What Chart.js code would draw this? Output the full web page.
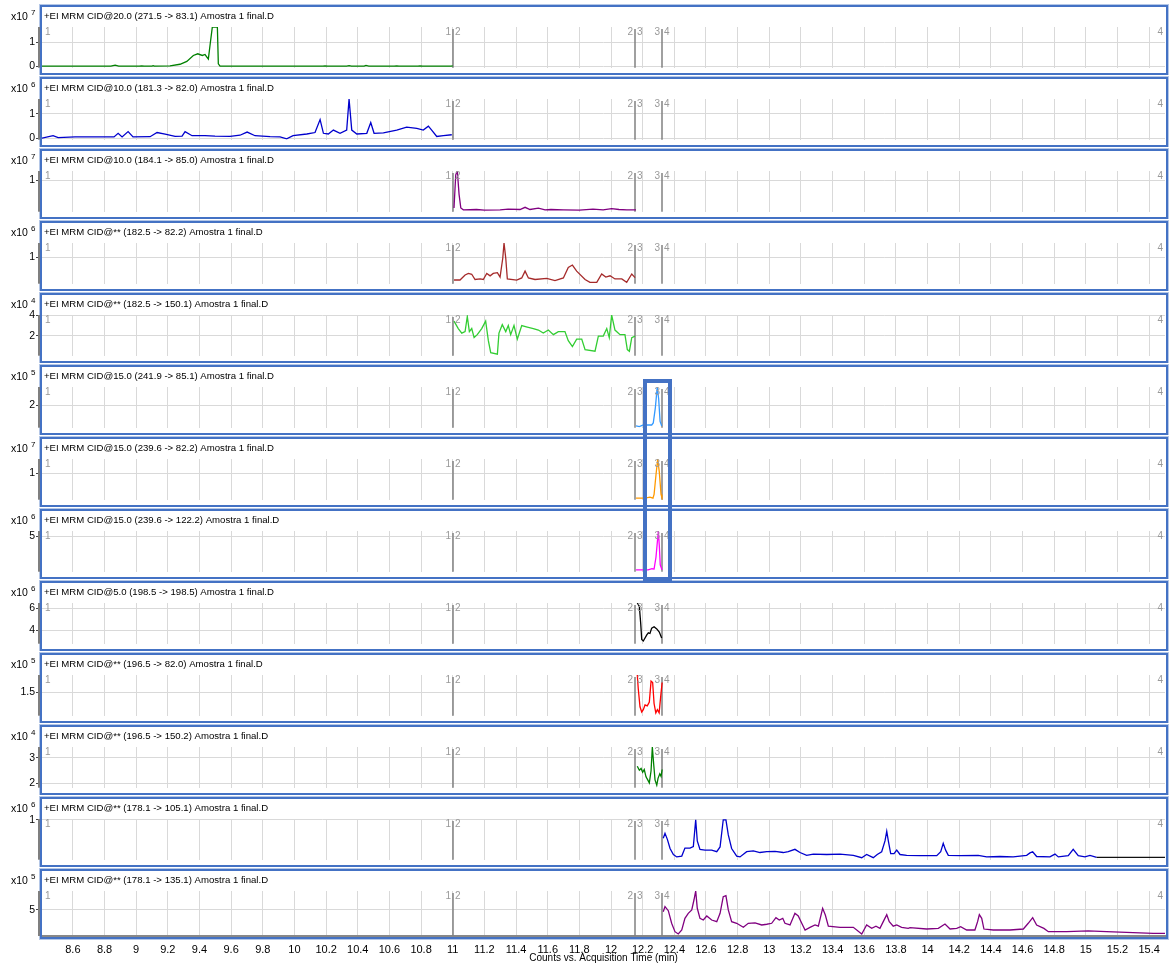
<!DOCTYPE html>
<html>
<head>
<meta charset="utf-8">
<script src="https://cdn.jsdelivr.net/npm/chart.js@4.4.1/dist/chart.umd.min.js"></script>
<style>
  body { margin: 0; background: #fff; }
  #wrap { position: relative; width: 1173px; height: 970px; overflow: hidden; }
  #wrap canvas { position: absolute; left: 0; }
  #focus { position: absolute; border: 4px solid #4472c4; box-sizing: border-box; }
</style>
</head>
<body>
<div id="wrap"><div id="focus"></div></div>
<script>
const panelTitles = [
  '+EI MRM CID@20.0 (271.5 -> 83.1) Amostra 1 final.D',
  '+EI MRM CID@10.0 (181.3 -> 82.0) Amostra 1 final.D',
  '+EI MRM CID@10.0 (184.1 -> 85.0) Amostra 1 final.D',
  '+EI MRM CID@** (182.5 -> 82.2) Amostra 1 final.D',
  '+EI MRM CID@** (182.5 -> 150.1) Amostra 1 final.D',
  '+EI MRM CID@15.0 (241.9 -> 85.1) Amostra 1 final.D',
  '+EI MRM CID@15.0 (239.6 -> 82.2) Amostra 1 final.D',
  '+EI MRM CID@15.0 (239.6 -> 122.2) Amostra 1 final.D',
  '+EI MRM CID@5.0 (198.5 -> 198.5) Amostra 1 final.D',
  '+EI MRM CID@** (196.5 -> 82.0) Amostra 1 final.D',
  '+EI MRM CID@** (196.5 -> 150.2) Amostra 1 final.D',
  '+EI MRM CID@** (178.1 -> 105.1) Amostra 1 final.D',
  '+EI MRM CID@** (178.1 -> 135.1) Amostra 1 final.D'
];
const exponents = [7, 6, 7, 6, 4, 5, 7, 6, 6, 5, 4, 6, 5];
const yRanges = [
  [-0.065, 1.646], [-0.063, 1.604], [0, 1.29], [0, 1.55], [0.04, 4.04], [1.0, 2.8], [0, 1.55],
  [0, 5.77], [2.75, 6.5], [1.0, 1.87], [1.82, 3.43], [0, 1.02], [1, 7.9]
];
const yTicks = [[0, 1], [0, 1], [1], [1], [2, 4], [2], [1], [5], [4, 6], [1.5], [2, 3], [1], [5]];
const lineColors = ['#008000', '#0000cd', '#800080', '#a52a2a', '#32cd32', '#3399ff', '#ff9900',
  '#ff00ff', '#000000', '#ff0000', '#008000', '#0000cd', '#800080'];

const timeRange = [8.405, 15.5];
const timeTicks = [8.6, 8.8, 9, 9.2, 9.4, 9.6, 9.8, 10, 10.2, 10.4, 10.6, 10.8, 11, 11.2, 11.4, 11.6, 11.8,
  12, 12.2, 12.4, 12.6, 12.8, 13, 13.2, 13.4, 13.6, 13.8, 14, 14.2, 14.4, 14.6, 14.8, 15, 15.2, 15.4];
const segmentStarts = [11.0, 12.153, 12.324];
const segmentNames = [['1', '2'], ['2', '3'], ['3', '4']];
const highlightSpan = [12.215, 12.373];
const highlightRows = [5, 7];

// [time (min), counts / 10^exp]
const trace1 = [[8.405,0],[8.84,0],[8.867,0.04],[8.89,0],[9.02,0],[9.035,0.015],[9.05,0],[9.10,0],[9.107,0.02],[9.115,0],
  [9.214,0.01],[9.277,0.08],[9.320,0.2],[9.361,0.45],[9.389,0.52],[9.418,0.45],[9.435,0.49],[9.456,0.3],[9.467,0.9],
  [9.481,1.64],[9.513,1.64],[9.519,0.1],[9.530,0],[10.18,0],[10.193,0.015],[10.21,0],[10.33,0],[10.345,0.02],[10.36,0],
  [10.44,0],[10.452,0.03],[10.47,0],[10.63,0],[10.646,0.015],[10.66,0],[10.78,0],[10.793,0.015],[10.81,0],[10.99,0],[11.0,0.015]];
const trace2 = [[8.405,0],[8.475,0.1],[8.507,0.02],[8.614,0.05],[8.772,0.05],[8.860,0.05],[8.886,0.2],[8.911,0.05],
  [8.949,0.27],[8.980,0.05],[9.088,0.06],[9.132,0.23],[9.183,0.17],[9.246,0.07],[9.290,0.08],[9.309,0.27],[9.353,0.1],
  [9.435,0.1],[9.498,0.08],[9.593,0.07],[9.656,0.12],[9.701,0.25],[9.751,0.1],[9.846,0.06],[9.909,0.05],[9.951,-0.03],
  [9.991,0.1],[10.078,0.17],[10.130,0.23],[10.162,0.76],[10.183,0.2],[10.214,0.17],[10.246,0.33],[10.288,0.2],
  [10.330,0.33],[10.345,1.6],[10.362,0.33],[10.394,0.17],[10.457,0.2],[10.482,0.64],[10.503,0.2],[10.562,0.22],
  [10.646,0.33],[10.709,0.45],[10.773,0.4],[10.814,0.33],[10.846,0.49],[10.867,0.33],[10.899,0.07],[10.941,0.1],[10.994,0.14]];
const trace3 = [[11.008,0.12],[11.019,1.17],[11.029,1.29],[11.040,0.55],[11.051,0.12],[11.067,0.06],[11.15,0.07],
  [11.2,0.05],[11.299,0.06],[11.35,0.08],[11.425,0.07],[11.457,0.14],[11.488,0.07],[11.541,0.11],[11.583,0.06],
  [11.62,0.07],[11.7,0.06],[11.8,0.05],[11.886,0.08],[11.95,0.06],[12.004,0.1],[12.05,0.07],[12.1,0.06],[12.158,0.06]];
const trace4 = [[11.008,0.14],[11.046,0.14],[11.078,0.33],[11.099,0.39],[11.120,0.36],[11.141,0.16],[11.173,0.18],
  [11.193,0.16],[11.215,0.39],[11.236,0.3],[11.256,0.39],[11.282,0.42],[11.299,0.25],[11.316,0.97],[11.324,1.55],
  [11.335,0.97],[11.345,0.18],[11.404,0.14],[11.436,0.22],[11.457,0.48],[11.478,0.22],[11.520,0.16],[11.594,0.2],
  [11.646,0.12],[11.699,0.22],[11.730,0.62],[11.756,0.71],[11.783,0.48],[11.836,0.16],[11.867,0.05],[11.910,0.05],
  [11.941,0.37],[11.967,0.25],[11.994,0.3],[12.025,0.18],[12.068,0.18],[12.099,0.05],[12.131,0.37],[12.152,0.23]];
const trace5 = [[11.008,3.44],[11.035,2.71],[11.057,2.26],[11.078,2.41],[11.092,3.89],[11.105,2.41],[11.120,2.71],
  [11.135,1.82],[11.155,2.11],[11.183,2.71],[11.208,3.44],[11.225,1.52],[11.240,0.33],[11.282,0.19],[11.292,2.26],
  [11.313,3.09],[11.335,2.41],[11.351,3.0],[11.366,2.11],[11.387,3.0],[11.408,1.67],[11.436,3.0],[11.471,2.86],
  [11.509,2.71],[11.541,2.56],[11.572,2.26],[11.604,2.56],[11.636,2.11],[11.667,2.41],[11.709,2.41],[11.730,1.52],
  [11.756,0.93],[11.783,1.67],[11.815,1.67],[11.836,0.64],[11.899,0.48],[11.920,1.97],[11.951,1.97],[11.973,2.71],
  [11.989,1.82],[12.004,4.04],[12.025,2.56],[12.057,2.11],[12.088,2.11],[12.103,0.64],[12.116,0.48],[12.131,1.82],[12.152,1.97]];
const trace6 = [[12.158,1.08],[12.179,1.05],[12.204,1.12],[12.257,1.12],[12.267,1.21],[12.280,1.88],[12.292,2.8],
  [12.301,2.28],[12.310,1.28],[12.320,1.08]];
const trace7 = [[12.158,0.06],[12.215,0.06],[12.246,0.1],[12.265,0.06],[12.272,0.2],[12.284,0.94],[12.295,1.55],
  [12.305,1.06],[12.316,0.2],[12.322,0.07]];
const trace8 = [[12.158,0.26],[12.234,0.26],[12.259,0.42],[12.272,0.38],[12.284,2.05],[12.299,5.77],[12.305,3.76],
  [12.311,0.98],[12.322,0.26]];
const trace9 = [[12.166,6.5],[12.179,6.19],[12.188,4.53],[12.194,3.14],[12.204,3.0],[12.226,3.56],[12.236,3.75],
  [12.246,3.69],[12.257,4.19],[12.272,4.31],[12.289,4.11],[12.305,3.83],[12.320,3.28]];
const trace10 = [[12.166,1.87],[12.172,1.58],[12.183,1.19],[12.194,1.08],[12.204,1.13],[12.215,1.23],[12.229,1.21],
  [12.242,1.29],[12.253,1.74],[12.263,1.71],[12.272,1.26],[12.283,1.06],[12.293,1.13],[12.304,1.06],[12.315,1.45],[12.323,1.71]];
const trace11 = [[12.166,2.67],[12.179,2.51],[12.190,2.58],[12.200,2.43],[12.210,2.54],[12.221,2.25],[12.232,2.13],
  [12.242,2.01],[12.253,2.49],[12.261,3.43],[12.270,2.72],[12.278,2.13],[12.289,1.92],[12.297,2.19],[12.308,2.37],
  [12.316,2.27],[12.323,2.54]];
const trace12 = [[12.330,0.54],[12.341,0.66],[12.356,0.51],[12.373,0.28],[12.394,0.13],[12.415,0.07],[12.447,0.09],
  [12.467,0.29],[12.499,0.29],[12.520,0.33],[12.535,1.0],[12.545,0.47],[12.562,0.26],[12.594,0.24],[12.636,0.24],
  [12.668,0.2],[12.689,0.32],[12.709,1.0],[12.726,1.0],[12.741,0.62],[12.762,0.28],[12.794,0.09],[12.815,0.07],
  [12.857,0.2],[12.899,0.22],[12.941,0.18],[12.984,0.2],[13.036,0.21],[13.088,0.18],[13.120,0.2],[13.162,0.26],
  [13.194,0.18],[13.236,0.11],[13.278,0.14],[13.363,0.13],[13.447,0.14],[13.531,0.11],[13.584,0.05],[13.615,0.13],
  [13.657,0.05],[13.682,0.13],[13.710,0.2],[13.731,0.47],[13.742,0.71],[13.752,0.47],[13.767,0.15],[13.788,0.15],
  [13.805,0.24],[13.826,0.13],[13.868,0.11],[13.952,0.1],[14.058,0.1],[14.083,0.2],[14.099,0.41],[14.114,0.24],
  [14.131,0.11],[14.205,0.1],[14.320,0.11],[14.373,0.07],[14.457,0.08],[14.541,0.07],[14.626,0.11],[14.647,0.17],
  [14.664,0.2],[14.689,0.08],[14.773,0.07],[14.805,0.14],[14.826,0.07],[14.889,0.1],[14.920,0.26],[14.952,0.1],
  [14.994,0.07],[15.026,0.11],[15.068,0.06],[15.299,0.06],[15.5,0.06]];
const trace13 = [[12.330,4.73],[12.341,5.5],[12.362,4.88],[12.383,2.95],[12.404,1.66],[12.425,1.31],[12.447,1.92],
  [12.467,3.71],[12.488,4.48],[12.510,4.99],[12.524,6.52],[12.535,7.9],[12.545,5.25],[12.562,3.71],[12.583,3.45],
  [12.605,4.07],[12.636,3.45],[12.668,3.2],[12.689,4.48],[12.709,7.03],[12.726,7.2],[12.741,4.99],[12.762,3.2],
  [12.794,2.95],[12.836,2.33],[12.867,2.95],[12.910,3.0],[12.952,2.69],[12.984,2.8],[13.015,2.95],[13.042,3.81],
  [13.063,3.45],[13.085,3.71],[13.099,2.95],[13.131,2.69],[13.162,4.48],[13.183,4.07],[13.205,2.95],[13.226,1.92],
  [13.257,2.33],[13.289,2.69],[13.310,2.5],[13.337,5.25],[13.354,4.22],[13.373,2.5],[13.447,2.33],[13.531,2.33],
  [13.584,1.31],[13.615,2.69],[13.647,2.17],[13.674,2.5],[13.699,2.17],[13.720,3.2],[13.742,4.27],[13.758,3.2],
  [13.783,2.5],[13.805,2.69],[13.836,2.33],[13.878,2.17],[13.889,2.27],[13.994,2.07],[14.068,2.17],[14.110,2.84],
  [14.142,2.07],[14.184,2.17],[14.209,2.43],[14.247,1.92],[14.299,1.92],[14.316,3.2],[14.327,4.27],[14.342,3.71],
  [14.356,2.07],[14.415,1.92],[14.521,1.92],[14.605,2.07],[14.636,2.95],[14.664,3.81],[14.689,2.69],[14.721,2.33],
  [14.735,2.17],[14.763,1.66],[14.879,1.66],[15.015,1.79],[15.131,1.66],[15.299,1.53],[15.426,1.4],[15.5,1.4]];

const traces = [trace1, trace2, trace3, trace4, trace5, trace6, trace7, trace8, trace9, trace10, trace11, trace12, trace13];

const FONT = "'Liberation Sans', Arial, sans-serif";
const PITCH = 72, TOP0 = 3;

const panelDecor = {
  id: 'panelDecor',
  beforeDatasetsDraw(chart) {
    const { ctx, chartArea: a, scales: { x } } = chart;
    ctx.save();
    ctx.strokeStyle = '#808080';
    ctx.lineWidth = 1.5;
    segmentStarts.forEach(t => {
      const px = Math.round(x.getPixelForValue(t));
      ctx.beginPath();
      ctx.moveTo(px, a.top + 2);
      ctx.lineTo(px, a.bottom);
      ctx.stroke();
    });
    ctx.restore();
  },
  afterDraw(chart, args, opts) {
    const { ctx, chartArea: a, scales: { x } } = chart;
    const i = opts.index;
    ctx.save();
    // panel frame
    ctx.strokeStyle = '#b4c7e7';
    ctx.lineWidth = 1;
    ctx.strokeRect(39.5, 1.5, 1129, 71);
    ctx.strokeStyle = '#4472c4';
    ctx.lineWidth = 2;
    ctx.strokeRect(41, 3, 1126, 68);
    ctx.fillStyle = '#7f7f7f';
    ctx.fillRect(38, a.top, 2, a.bottom - a.top);

    ctx.fillStyle = '#000';
    ctx.textBaseline = 'middle';
    ctx.textAlign = 'left';
    ctx.font = '9.6px ' + FONT;
    ctx.fillText(panelTitles[i], 44, 13);
    ctx.font = '10.5px ' + FONT;
    ctx.fillText('x10', 11, 14);
    const w = ctx.measureText('x10').width;
    ctx.font = '8px ' + FONT;
    ctx.fillText(String(exponents[i]), 11 + w + 3, 10);

    ctx.fillStyle = '#999';
    ctx.font = '10px ' + FONT;
    const ly = a.top + 5;
    ctx.fillText('1', a.left + 3, ly);
    segmentStarts.forEach((t, k) => {
      const px = Math.round(x.getPixelForValue(t));
      ctx.textAlign = 'right';
      ctx.fillText(segmentNames[k][0], px - 2, ly);
      ctx.textAlign = 'left';
      ctx.fillText(segmentNames[k][1], px + 2, ly);
    });
    ctx.textAlign = 'right';
    ctx.fillText('4', a.right - 2, ly);
    ctx.restore();
  }
};

const wrap = document.getElementById('wrap');
const charts = traces.map((trace, i) => {
  const last = i === traces.length - 1;
  const top = TOP0 + i * PITCH;
  const canvas = document.createElement('canvas');
  canvas.width = 1173;
  canvas.height = last ? 970 - top : PITCH;
  canvas.style.top = top + 'px';
  wrap.insertBefore(canvas, document.getElementById('focus'));

  const ds = {
    data: trace.map(([t, v]) => ({ x: t, y: v })),
    borderColor: lineColors[i],
    borderWidth: 1.3,
    pointRadius: 0,
    tension: 0
  };
  if (i === 11) ds.segment = { borderColor: c => c.p0.parsed.x >= 15.05 ? '#111' : undefined };

  return new Chart(canvas, {
    type: 'line',
    data: { datasets: [ds] },
    options: {
      responsive: false,
      animation: false,
      events: [],
      layout: { padding: { top: 24, bottom: last ? 0 : 3, left: 0, right: 8 } },
      plugins: { legend: { display: false }, tooltip: { enabled: false }, panelDecor: { index: i } },
      scales: {
        x: {
          type: 'linear',
          min: timeRange[0],
          max: timeRange[1],
          afterBuildTicks: s => { s.ticks = timeTicks.map(v => ({ value: v })); },
          afterFit: s => { s.height = last ? 34 : 0; },
          grid: { color: '#d9d9d9', lineWidth: 1, drawTicks: last, tickLength: 4, tickColor: '#888' },
          border: { display: last, color: '#888', width: 2 },
          ticks: {
            display: last, color: '#000', padding: 3, maxRotation: 0, autoSkip: false,
            font: { size: 11, family: FONT }, callback: v => String(v)
          },
          title: {
            display: last, text: 'Counts vs. Acquisition Time (min)', color: '#000',
            font: { size: 10, family: FONT }, padding: { top: 0, bottom: 6 }
          }
        },
        y: {
          min: yRanges[i][0],
          max: yRanges[i][1],
          afterBuildTicks: s => { s.ticks = yTicks[i].map(v => ({ value: v })); },
          afterFit: s => { s.width = 42; },
          grid: { color: '#d9d9d9', lineWidth: 1, tickLength: 6, tickColor: '#444' },
          border: { display: false },
          ticks: { color: '#000', padding: 1, font: { size: 10.5, family: FONT }, callback: v => String(v) }
        }
      }
    },
    plugins: [panelDecor]
  });
});

// focus box around the 3|4 peaks
const xs = charts[highlightRows[0]].scales.x;
const x0 = xs.getPixelForValue(highlightSpan[0]);
const x1 = xs.getPixelForValue(highlightSpan[1]);
const yTop = TOP0 + 2 + highlightRows[0] * PITCH + 16;
const yBot = TOP0 + 2 + highlightRows[1] * PITCH + 72;
const focus = document.getElementById('focus');
focus.style.left = (x0 - 2) + 'px';
focus.style.width = (x1 - x0 + 4) + 'px';
focus.style.top = (yTop - 2) + 'px';
focus.style.height = (yBot - yTop + 4) + 'px';
</script>
</body>
</html>
